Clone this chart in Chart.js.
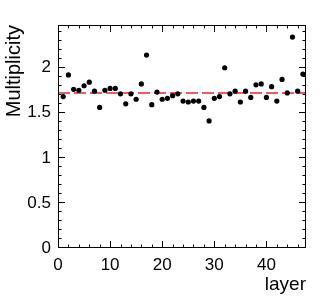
<!DOCTYPE html>
<html>
<head>
<meta charset="utf-8">
<script src="https://cdn.jsdelivr.net/npm/chart.js@4.4.0/dist/chart.umd.min.js"></script>
<style>
  body { margin: 0; background: #fff; }
</style>
</head>
<body>
<canvas id="multChart" width="332" height="304"></canvas>
<script>
// valeurs
const layers = [1, 2, 3, 4, 5, 6, 7, 8, 9, 10, 11, 12, 13, 14, 15, 16, 17, 18, 19, 20, 21, 22, 23, 24,
                25, 26, 27, 28, 29, 30, 31, 32, 33, 34, 35, 36, 37, 38, 39, 40, 41, 42, 43, 44, 45, 46, 47];
const multiplicity = [1.68, 1.92, 1.76, 1.75, 1.80, 1.84, 1.74, 1.56, 1.75, 1.77, 1.77, 1.71, 1.60, 1.71,
                      1.65, 1.82, 2.14, 1.59, 1.73, 1.65, 1.66, 1.69, 1.71, 1.63, 1.62, 1.63, 1.63, 1.56,
                      1.41, 1.66, 1.68, 2.00, 1.71, 1.74, 1.62, 1.74, 1.67, 1.81, 1.82, 1.67, 1.79, 1.63,
                      1.87, 1.72, 2.34, 1.74, 1.93];
const fitValue = 1.72;

const xRange = [0, 47.6];
const yRange = [0, 2.474];
const xTicks = [0, 10, 20, 30, 40];
const yTicks = [0, 0.5, 1, 1.5, 2];
const xMinorTicks = [0, 2, 4, 6, 8, 10, 12, 14, 16, 18, 20, 22, 24, 26, 28, 30, 32, 34, 36, 38, 40, 42, 44, 46];
const yMinorTicks = [0, 0.1, 0.2, 0.3, 0.4, 0.5, 0.6, 0.7, 0.8, 0.9, 1, 1.1, 1.2, 1.3, 1.4, 1.5,
                     1.6, 1.7, 1.8, 1.9, 2, 2.1, 2.2, 2.3, 2.4];

const fontFamily = '"Liberation Sans", Arial, Helvetica, sans-serif';

// cadre + graduations vers l'intérieur (style ROOT)
const frameTicks = {
    id: 'frameTicks',
    afterDatasetsDraw(chart) {
        const { ctx, chartArea: a, scales: { x, y } } = chart;
        ctx.save();
        ctx.strokeStyle = '#000';
        ctx.lineWidth = 1;
        ctx.strokeRect(a.left + 0.5, a.top + 0.5, a.width - 1, a.height - 1);
        ctx.beginPath();
        xMinorTicks.forEach(v => {
            const px = Math.round(x.getPixelForValue(v)) + 0.5;
            const len = xTicks.includes(v) ? 7 : 3.5;
            ctx.moveTo(px, a.bottom); ctx.lineTo(px, a.bottom - len);
            ctx.moveTo(px, a.top); ctx.lineTo(px, a.top + len);
        });
        yMinorTicks.forEach(v => {
            const py = Math.round(y.getPixelForValue(v)) - 0.5;
            const len = yTicks.includes(v) ? 7 : 3.5;
            ctx.moveTo(a.left, py); ctx.lineTo(a.left + len, py);
            ctx.moveTo(a.right, py); ctx.lineTo(a.right - len, py);
        });
        ctx.stroke();
        ctx.restore();
    }
};

const ctx = document.getElementById('multChart').getContext('2d');
new Chart(ctx, {
    data: {
        datasets: [{
            type: 'line',
            data: [{ x: xRange[0], y: fitValue }, { x: xRange[1], y: fitValue }],
            borderColor: '#e82828',
            borderWidth: 1.5,
            borderDash: [12, 4],
            pointRadius: 0,
            order: 2
        }, {
            type: 'scatter',
            data: layers.map((l, i) => ({ x: l, y: multiplicity[i] })),
            backgroundColor: '#000',
            borderWidth: 0,
            pointRadius: 2.6,
            order: 1
        }]
    },
    options: {
        responsive: false,
        animation: false,
        layout: { padding: { top: 25, right: 26, left: 0, bottom: 0 } },
        plugins: { legend: { display: false }, tooltip: { enabled: false } },
        scales: {
            x: {
                type: 'linear',
                min: xRange[0],
                max: xRange[1],
                afterBuildTicks: s => { s.ticks = xTicks.map(v => ({ value: v })); },
                afterFit: s => { s.height = 56; },
                grid: { display: false, drawTicks: false },
                border: { display: false },
                ticks: { color: '#000', padding: 7, font: { family: fontFamily, size: 17 }, maxRotation: 0,
                         callback: v => String(v) },
                title: {
                    display: true, text: 'layer', align: 'end', color: '#000',
                    font: { family: fontFamily, size: 19 }, padding: { top: 0, bottom: 8 }
                }
            },
            y: {
                type: 'linear',
                min: yRange[0],
                max: yRange[1],
                afterBuildTicks: s => { s.ticks = yTicks.map(v => ({ value: v })); },
                afterFit: s => { s.width = 58; },
                grid: { display: false, drawTicks: false },
                border: { display: false },
                ticks: { color: '#000', padding: 7, font: { family: fontFamily, size: 17 },
                         callback: v => String(v) },
                title: {
                    display: true, text: 'Multiplicity', align: 'end', color: '#000',
                    font: { family: fontFamily, size: 20 }, padding: { top: 2, bottom: 0 }
                }
            }
        }
    },
    plugins: [frameTicks]
});
</script>
</body>
</html>
